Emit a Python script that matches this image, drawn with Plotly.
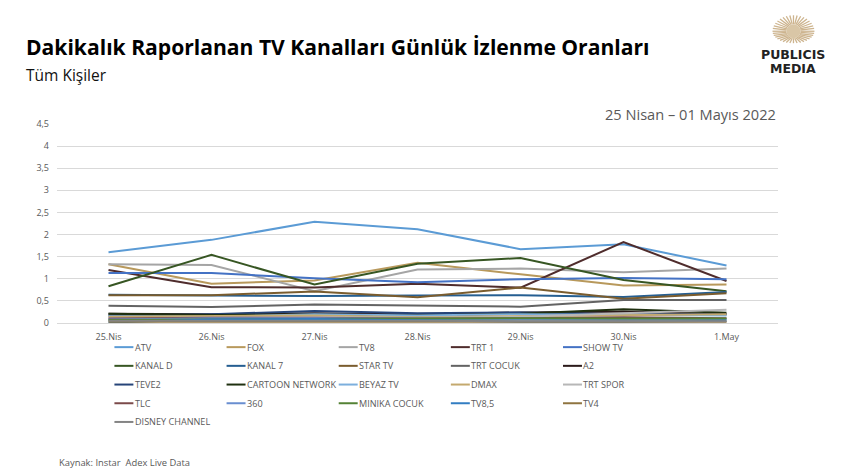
# -*- coding: utf-8 -*-
import math
import plotly.graph_objects as go

gunler = ['25.Nis', '26.Nis', '27.Nis', '28.Nis', '29.Nis', '30.Nis', '1.May']

kanallar = ['ATV', 'FOX', 'TV8', 'TRT 1', 'SHOW TV', 'KANAL D', 'KANAL 7', 'STAR TV', 'TRT COCUK', 'A2',
            'TEVE2', 'CARTOON NETWORK', 'BEYAZ TV', 'DMAX', 'TRT SPOR', 'TLC', '360', 'MINIKA COCUK', 'TV8,5',
            'TV4', 'DISNEY CHANNEL']

atv = [1.60, 1.88, 2.29, 2.12, 1.67, 1.78, 1.30]
fox = [1.33, 0.89, 0.96, 1.36, 1.10, 0.85, 0.87]
tv8 = [1.33, 1.31, 0.72, 1.21, 1.23, 1.15, 1.23]
trt1 = [1.20, 0.81, 0.80, 0.89, 0.80, 1.83, 0.95]
showtv = [1.13, 1.13, 1.01, 0.92, 0.99, 1.02, 0.99]
kanald = [0.83, 1.54, 0.87, 1.34, 1.47, 0.97, 0.72]
kanal7 = [0.64, 0.63, 0.61, 0.62, 0.63, 0.59, 0.70]
startv = [0.63, 0.63, 0.71, 0.58, 0.80, 0.55, 0.67]
trtcocuk = [0.39, 0.36, 0.42, 0.39, 0.37, 0.52, 0.52]
a2 = [0.21, 0.20, 0.22, 0.19, 0.24, 0.26, 0.20]
teve2 = [0.17, 0.20, 0.27, 0.22, 0.24, 0.20, 0.20]
cartoon = [0.21, 0.18, 0.19, 0.17, 0.21, 0.31, 0.23]
beyaz = [0.15, 0.14, 0.20, 0.17, 0.20, 0.18, 0.17]
dmax = [0.14, 0.15, 0.17, 0.13, 0.15, 0.17, 0.20]
trtspor = [0.11, 0.12, 0.13, 0.12, 0.14, 0.22, 0.30]
tlc = [0.10, 0.12, 0.12, 0.10, 0.11, 0.13, 0.11]
k360 = [0.08, 0.11, 0.11, 0.09, 0.08, 0.07, 0.09]
minika = [0.07, 0.08, 0.10, 0.10, 0.11, 0.10, 0.10]
tv85 = [0.01, 0.08, 0.09, 0.06, 0.03, 0.03, 0.05]
tv4 = [0.03, 0.03, 0.03, 0.03, 0.03, 0.02, 0.03]
disney = [0.05, 0.05, 0.06, 0.05, 0.04, 0.04, 0.04]

degerler = [atv, fox, tv8, trt1, showtv, kanald, kanal7, startv, trtcocuk, a2,
            teve2, cartoon, beyaz, dmax, trtspor, tlc, k360, minika, tv85, tv4, disney]

renkler = ['#5B9BD5', '#B8995C', '#A5A5A5', '#4F2C2C', '#4472C4', '#375623', '#255E91', '#7A5C2E', '#636363', '#2B1A1A',
           '#264478', '#1F3010', '#7CAFDD', '#C4A96E', '#B7B7B7', '#7B4A4A', '#698ED0', '#548235', '#327DC2',
           '#8F7440', '#848484']

W, H = 845, 474

fig = go.Figure()
for ad, y, renk in zip(kanallar, degerler, renkler):
    fig.add_trace(go.Scatter(x=gunler, y=y, name=ad, mode='lines', line=dict(color=renk, width=2)))


def px(x):
    return (x - 56.5) / 722


def py(y):
    return (323.5 - y) / 199.5


def yazi(txt, x, y, size, color, anchor='left', family='Open Sans', bold=False):
    fig.add_annotation(text='<b>' + txt + '</b>' if bold else txt, xref='paper', yref='paper',
                       x=px(x), y=py(y), xanchor=anchor, yanchor='middle', xshift=-1,
                       showarrow=False, font=dict(size=size, color=color, family=family))


yazi('Dakikalık Raporlanan TV Kanalları Günlük İzlenme Oranları', 24.5, 46, 21.1, '#000000', bold=True)
yazi('Tüm Kişiler', 24, 75, 15.5, '#111111')
yazi('25 Nisan – 01 Mayıs 2022', 780, 113.5, 14.6, '#595959', anchor='right')
yazi('Kaynak: Instar  Adex Live Data', 57.5, 463, 9.4, '#595959')
yazi('PUBLICIS', 795, 54, 12.5, '#222222', anchor='center', family='DejaVu Sans', bold=True)
yazi('MEDIA', 795, 68, 12.5, '#222222', anchor='center', family='DejaVu Sans', bold=True)

# lejant: 5 kolon, satir satir
for i, (ad, renk) in enumerate(zip(kanallar, renkler)):
    kolon, satir = i % 5, i // 5
    lx = 114 + kolon * 112.3
    ly = 347.7 + satir * 18.75
    fig.add_shape(type='line', xref='paper', yref='paper', x0=px(lx), x1=px(lx + 19), y0=py(ly), y1=py(ly),
                  line=dict(color=renk, width=2))
    yazi(ad, lx + 19.5, ly, 9.1, '#595959')

# logo: isinlar
for i in range(36):
    a = math.radians(i * 10)
    s = math.sin(a)
    fig.add_shape(type='line', xref='paper', yref='paper',
                  x0=px(794 + 7 * math.cos(a)), y0=py(31 + 7 * s),
                  x1=px(794 + 21 * math.cos(a)), y1=py(31 + (16 if s < 0 else 12) * s),
                  line=dict(color='#CDB48E', width=1.3))
fig.add_shape(type='circle', xref='paper', yref='paper', x0=px(787), x1=px(801),
              y0=py(38), y1=py(24), fillcolor='#D9C6A6', line=dict(width=0))

fig.update_layout(
    width=W, height=H,
    margin=dict(l=56.5, r=66.5, t=124, b=150.5),
    paper_bgcolor='white', plot_bgcolor='white',
    separators=', ',
    font=dict(family='Open Sans', size=9, color='#595959'),
    showlegend=False,
    xaxis=dict(type='category', range=[-0.5, 6.5], showgrid=False, showline=True, linecolor='#D9D9D9',
               ticks='', tickfont=dict(size=9), ticklabelstandoff=5),
    yaxis=dict(range=[0, 4.5], dtick=0.5, gridcolor='#D9D9D9', gridwidth=1, zeroline=False, showline=False,
               ticks='', tickfont=dict(size=9), ticklabelstandoff=7),
)

# govde kenar boslugu olmasin
fig.write_html('out.html', config={'displayModeBar': False}, post_script="document.body.style.margin='0';")
